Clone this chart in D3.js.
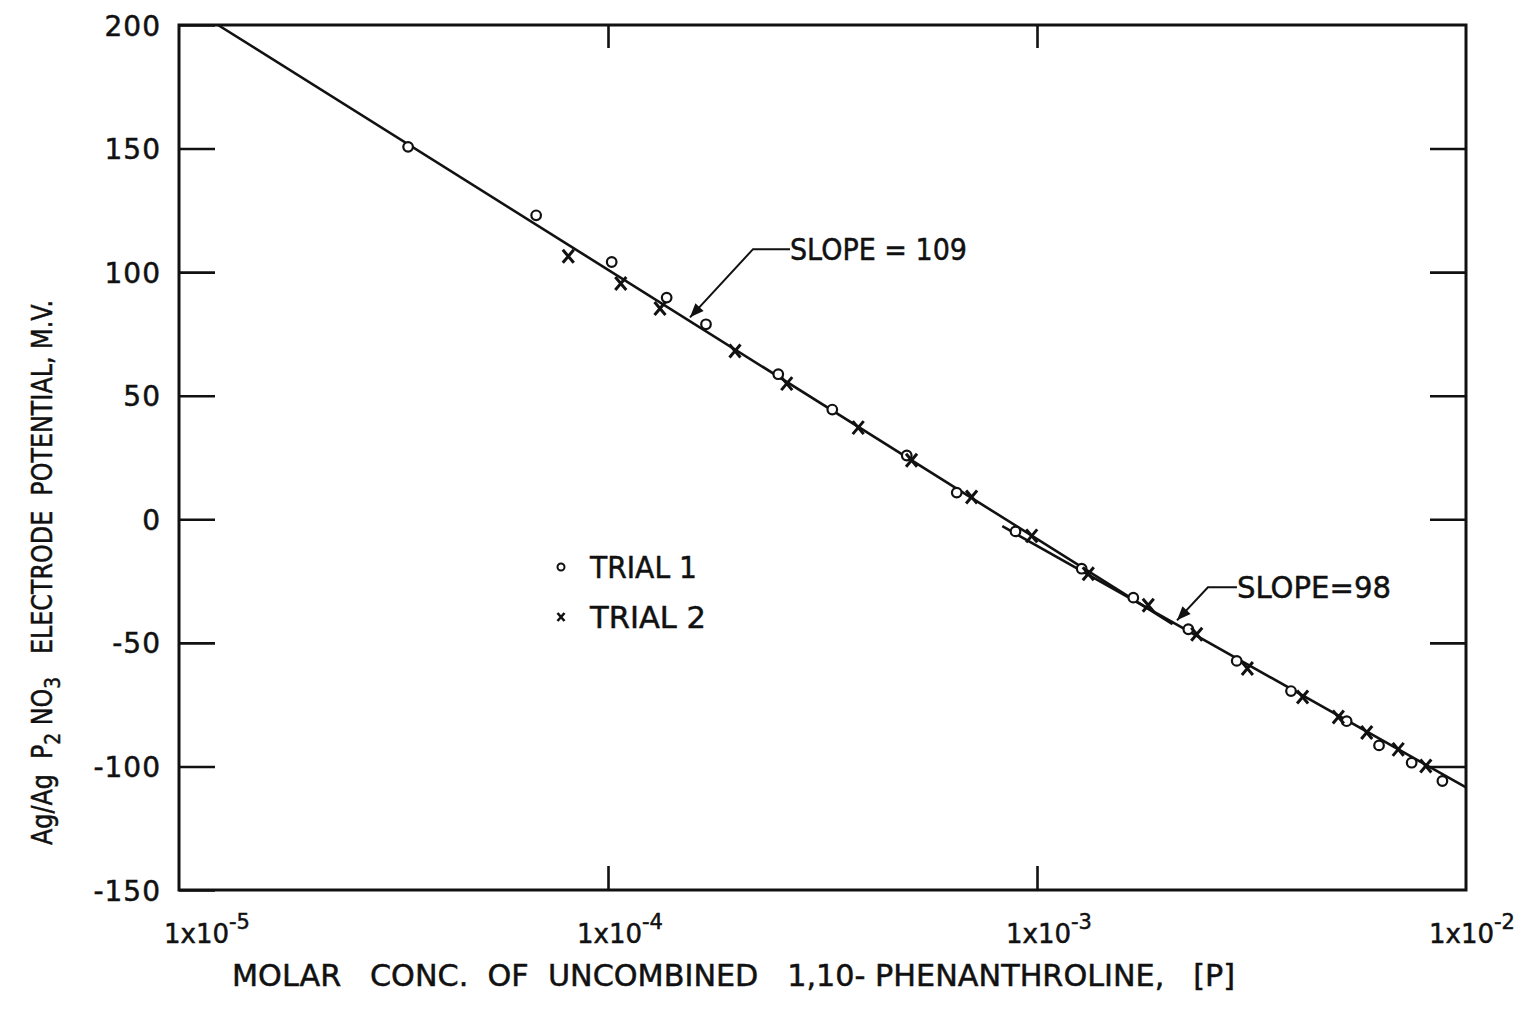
<!DOCTYPE html>
<html>
<head>
<meta charset="utf-8">
<script src="https://cdn.jsdelivr.net/npm/d3@7"></script>
<style>
  html, body { margin: 0; padding: 0; background: #fff; }
  svg { display: block; }
  text { font-family: "DejaVu Sans", sans-serif; fill: #111; stroke: #111; stroke-width: 0.5px; white-space: pre; }
</style>
</head>
<body>
<svg id="chart" width="1525" height="1010"></svg>
<script>
// ---- data ----
const yTicks = [200, 150, 100, 50, 0, -50, -100, -150];
const xTicks = [1e-5, 1e-4, 1e-3, 1e-2];
const xTickExp = ["-5", "-4", "-3", "-2"];

const trial1X = [3.42e-5, 6.80e-5, 1.020e-4, 1.370e-4, 1.692e-4, 2.494e-4, 3.333e-4, 4.97e-4, 6.50e-4, 8.91e-4,
                 1.271e-3, 1.677e-3, 2.253e-3, 2.921e-3, 3.909e-3, 5.27e-3, 6.27e-3, 7.47e-3, 8.81e-3];
const trial1Y = [150.7, 123.0, 104.1, 89.7, 78.9, 58.7, 44.4, 25.8, 10.8, -4.9,
                 -20.0, -31.7, -44.5, -57.3, -69.5, -81.7, -91.5, -98.5, -105.9];

const trial2X = [8.08e-5, 1.071e-4, 1.322e-4, 1.977e-4, 2.61e-4, 3.83e-4, 5.10e-4, 7.04e-4, 9.72e-4,
                 1.317e-3, 1.817e-3, 2.357e-3, 3.093e-3, 4.16e-3, 5.04e-3, 5.87e-3, 6.95e-3, 8.06e-3];
const trial2Y = [106.4, 95.4, 85.3, 68.1, 54.9, 37.1, 23.9, 9.0, -6.7,
                 -22.0, -34.8, -46.5, -60.4, -71.9, -80.0, -86.3, -93.1, -99.8];

// fitted lines (endpoints)
const line109X = [1.233e-5, 2.07e-3];
const line109Y = [200, -42.4];
const line98X = [8.3e-4, 1e-2];
const line98Y = [-2.8, -108.5];

// annotations: tip, elbow, text start
const annotations = [
  { label: "SLOPE = 109", tipX: 1.553e-4, tipY: 81.7, elbowX: 2.178e-4, elbowY: 109.3, textX: 2.656e-4, textW: 177 },
  { label: "SLOPE=98", tipX: 2.12e-3, tipY: -40.9, elbowX: 2.503e-3, elbowY: -27.5, textX: 2.925e-3, textW: 154 }
];

const legendLabels = ["TRIAL 1", "TRIAL 2"];
const xTitle = "MOLAR   CONC.  OF  UNCOMBINED   1,10- PHENANTHROLINE,   [P]";

// ---- layout ----
const L = 179, R = 1466, T = 25, B = 890;
const svg = d3.select("#chart");
const x = d3.scaleLog().domain([1e-5, 1e-2]).range([L, R]);
const y = d3.scaleLinear().domain([-150, 200]).range([B, T]);

svg.append("defs").append("marker")
  .attr("id", "arrow").attr("viewBox", "0 0 10 10").attr("refX", 10).attr("refY", 5)
  .attr("markerWidth", 16).attr("markerHeight", 14).attr("markerUnits", "userSpaceOnUse")
  .attr("orient", "auto")
  .append("path").attr("d", "M0,1 L10,5 L0,9 Z").attr("fill", "#111");

// frame
svg.append("rect").attr("x", L).attr("y", T).attr("width", R - L).attr("height", B - T)
  .attr("fill", "none").attr("stroke", "#111").attr("stroke-width", 3);

// axes
const styleAxis = g => {
  g.select(".domain").remove();
  g.selectAll(".tick line").attr("stroke", "#111").attr("stroke-width", 2.6);
};
const yFmt = d => d < 0 ? "-" + Math.abs(d) : String(d);
svg.append("g").attr("transform", `translate(${L},0)`)
  .call(d3.axisLeft(y).tickValues(yTicks).tickSize(-36).tickSizeOuter(0).tickPadding(18).tickFormat(yFmt))
  .call(styleAxis)
  .selectAll("text").attr("font-size", 28).attr("letter-spacing", 1).attr("fill", "#111")
  .attr("font-family", "DejaVu Sans").attr("dy", "0.36em");
svg.append("g").attr("transform", `translate(${R},0)`)
  .call(d3.axisRight(y).tickValues(yTicks.slice(1, -1)).tickSize(-36).tickSizeOuter(0).tickFormat(""))
  .call(styleAxis);
svg.append("g").attr("transform", `translate(0,${T})`)
  .call(d3.axisTop(x).tickValues(xTicks.slice(1, -1)).tickSize(-23).tickSizeOuter(0).tickFormat(""))
  .call(styleAxis);
svg.append("g").attr("transform", `translate(0,${B})`)
  .call(d3.axisBottom(x).tickValues(xTicks.slice(1, -1)).tickSize(-24).tickSizeOuter(0).tickFormat(""))
  .call(styleAxis);

// x tick labels with superscript
xTicks.forEach((v, i) => {
  const t = svg.append("text").attr("x", x(v) + (i === 0 ? 28 : (i === 3 ? 6 : 12))).attr("y", 943)
    .attr("text-anchor", "middle").attr("font-size", 26);
  t.append("tspan").text("1x10");
  t.append("tspan").attr("dy", -14).attr("font-size", 21).text(xTickExp[i]);
});

// fitted lines
const lineGen = d3.line().x(d => x(d[0])).y(d => y(d[1]));
svg.append("path").attr("d", lineGen(line109X.map((v, i) => [v, line109Y[i]])))
  .attr("fill", "none").attr("stroke", "#111").attr("stroke-width", 2.6);
svg.append("path").attr("d", lineGen(line98X.map((v, i) => [v, line98Y[i]])))
  .attr("fill", "none").attr("stroke", "#111").attr("stroke-width", 2.6);

// data points
svg.append("g").selectAll("circle").data(trial1X.map((v, i) => [v, trial1Y[i]])).join("circle")
  .attr("cx", d => x(d[0])).attr("cy", d => y(d[1])).attr("r", 4.8)
  .attr("fill", "#fff").attr("stroke", "#111").attr("stroke-width", 2.2);
const cross = "M-5.5,-6.5L5.5,6.5M5.5,-6.5L-5.5,6.5";
svg.append("g").selectAll("path").data(trial2X.map((v, i) => [v, trial2Y[i]])).join("path")
  .attr("transform", d => `translate(${x(d[0])},${y(d[1])})`).attr("d", cross)
  .attr("stroke", "#111").attr("stroke-width", 3).attr("fill", "none");

// annotations
annotations.forEach(a => {
  const ex = x(a.elbowX), ey = y(a.elbowY), tx = x(a.textX);
  svg.append("path").attr("d", `M${tx},${ey}L${ex},${ey}L${x(a.tipX)},${y(a.tipY)}`)
    .attr("fill", "none").attr("stroke", "#111").attr("stroke-width", 2)
    .attr("marker-end", "url(#arrow)");
  svg.append("text").attr("x", tx).attr("y", ey + 11).attr("font-size", 30)
    .attr("textLength", a.textW).attr("lengthAdjust", "spacingAndGlyphs").text(a.label);
});

// legend
const lg = svg.append("g").attr("transform", "translate(561,567)");
lg.append("circle").attr("cx", 0).attr("cy", 0).attr("r", 3.5)
  .attr("fill", "#fff").attr("stroke", "#111").attr("stroke-width", 2);
lg.append("path").attr("transform", "translate(0,50)").attr("d", "M-3.5,-4L3.5,4M3.5,-4L-3.5,4")
  .attr("stroke", "#111").attr("stroke-width", 2.6);
lg.selectAll("text").data(legendLabels).join("text")
  .attr("x", 29).attr("y", (d, i) => i * 50 + 11).attr("font-size", 30)
  .attr("textLength", (d, i) => i === 0 ? 107 : 116).attr("lengthAdjust", "spacingAndGlyphs").text(d => d);

// x axis title
svg.append("text").attr("x", 232).attr("y", 986).attr("font-size", 30)
  .attr("textLength", 1003).attr("lengthAdjust", "spacingAndGlyphs").text(xTitle);

// y axis title (rotated)
const yt = svg.append("text").attr("transform", "translate(52,845) rotate(-90)")
  .attr("x", 0).attr("y", 0).attr("font-size", 28)
  .attr("textLength", 545).attr("lengthAdjust", "spacingAndGlyphs");
yt.append("tspan").text("Ag/Ag  P");
yt.append("tspan").attr("dy", 8).attr("font-size", 22).text("2");
yt.append("tspan").attr("dy", -8).text(" NO");
yt.append("tspan").attr("dy", 8).attr("font-size", 22).text("3");
yt.append("tspan").attr("dy", -8).text("   ELECTRODE  POTENTIAL, M.V.");
</script>
</body>
</html>
